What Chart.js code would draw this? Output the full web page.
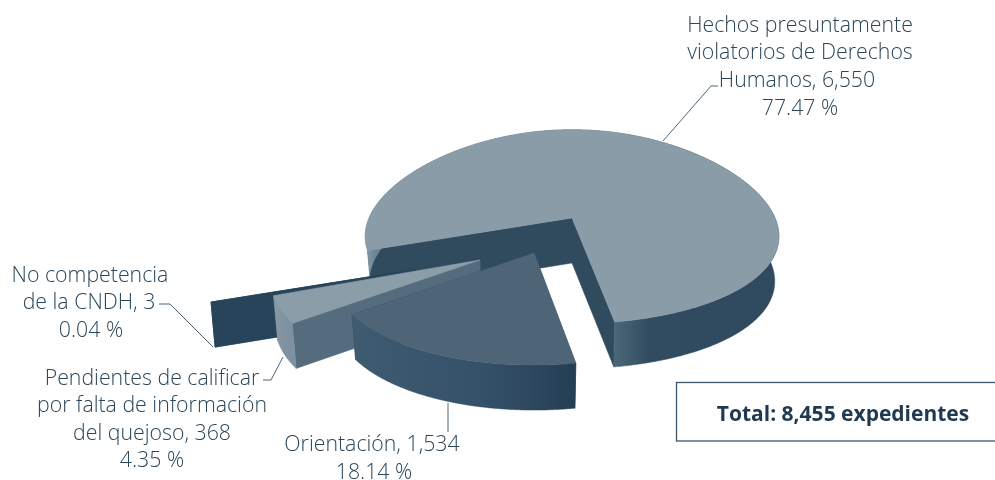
<!DOCTYPE html>
<html lang="es">
<head>
<meta charset="utf-8">
<title>Expedientes</title>
<style>
html,body{margin:0;padding:0;background:#fff}
canvas{display:block}
</style>
<script src="https://cdn.jsdelivr.net/npm/chart.js@4"></script>
</head>
<body>
<canvas id="c" width="995" height="480"></canvas>
<script>
// ---- data ----
const categories = ["Hechos presuntamente violatorios de Derechos Humanos", "Orientación", "Pendientes de calificar por falta de información del quejoso", "No competencia de la CNDH"];
const expedientes = [6550, 1534, 368, 3];
const porcentajes = ["77.47 %", "18.14 %", "4.35 %", "0.04 %"];
const totalLabel = "Total: 8,455 expedientes";
const labelLines = [
  ["Hechos presuntamente", "violatorios de Derechos", "Humanos, 6,550", porcentajes[0]],
  ["Orientación, 1,534", porcentajes[1]],
  ["Pendientes de calificar", "por falta de información", "del quejoso, 368", porcentajes[2]],
  ["No competencia", "de la CNDH, 3", porcentajes[3]]
];

// ---- styles and layout ----
const TEXT = "#2b4659";
const FONT = '300 21.3px "Open Sans", sans-serif';
const view = {cx: 572, cy: 218, rx: 203, ry: 97, persX: 0.2, persY: 0.09, depth: 45, baseScale: 0.98};
const explode = [
  {dx: 0, dy: 0, sx: 1, sy: 1},
  {dx: -38, dy: 35, sx: 0.98, sy: 1.06},
  {dx: -92, dy: 42, sx: 1.01, sy: 1.09},
  {dx: -156.5, dy: 51.5, sx: 1, sy: 1}
];
const topColors = ["#8a9ca8", "#4e6577", "#8b9da9", "#27445a"];
const cutColors = ["#304a5e", "#304a5e", "#546c7e", "#27445a"];
const wallStops = [
  [[365,"#8a9ca8"],[375,"#6f8596"],[617,"#4a6577"],[650,"#314c60"],[778,"#2f4a5e"]],
  [[352,"#3f5b70"],[480,"#35516a"],[577,"#243e54"]],
  [[272,"#8898a5"],[295,"#7a8fa0"]],
  [[211,"#27445a"],[215,"#27445a"]]
];
const drawOrder = [0, 3, 2, 1];
const labelLayout = [
  [[800,26],[800,53],[797,81],[800,109]],
  [[372,445],[374,473]],
  [[152,379],[152,406],[152,434],[152,461]],
  [[90,276],[89,303],[91,331]]
];
const leaders = [
  [[718,86],[711,86],[663,141]],
  [[448,403],[448,432]],
  [[263,380],[271,380],[283,357]],
  [[159,304],[170,304],[213,347]]
];
const totalBox = {x: 676.5, y: 382.5, right: 996, bottom: 441, textX: 843, textY: 415};

function project(a, i, z, r) {
  const e = explode[i], v = view;
  const u = Math.cos(a) * r, w = Math.sin(a) * r;
  const k = z ? v.baseScale : 1;
  const x = v.rx * u * (1 + v.persX * w) * e.sx * k;
  const y = v.ry * w * (1 + v.persY * w) * e.sy;
  return [v.cx + e.dx + x, v.cy + e.dy + y + (z ? v.depth : 0)];
}
function poly(ctx, pts, fill) {
  ctx.beginPath();
  pts.forEach((p, n) => n ? ctx.lineTo(p[0], p[1]) : ctx.moveTo(p[0], p[1]));
  ctx.closePath();
  ctx.fillStyle = fill;
  ctx.fill();
  ctx.strokeStyle = fill;
  ctx.lineWidth = 0.5;
  ctx.stroke();
}
function arcPts(i, a0, a1, z) {
  const n = Math.max(2, Math.ceil(Math.abs(a1 - a0) / 0.008));
  const pts = [];
  for (let s = 0; s <= n; s++) pts.push(project(a0 + (a1 - a0) * s / n, i, z, 1));
  return pts;
}
const pie3d = {
  id: "pie3d",
  beforeDatasetsDraw(chart) {
    const ctx = chart.ctx;
    const arcs = chart.getDatasetMeta(0).data;
    drawOrder.forEach(i => {
      const a0 = arcs[i].startAngle, a1 = arcs[i].endAngle;
      const topArc = arcPts(i, a0, a1, 0), botArc = arcPts(i, a0, a1, 1);
      const apexT = project(0, i, 0, 0), apexB = project(0, i, 1, 0);
      const stops = wallStops[i];
      const x0 = stops[0][0], x1 = stops[stops.length - 1][0];
      const g = ctx.createLinearGradient(x0, 0, x1, 0);
      stops.forEach(s => g.addColorStop((s[0] - x0) / (x1 - x0), s[1]));
      poly(ctx, [apexT, topArc[0], botArc[0], apexB], cutColors[i]);
      poly(ctx, [apexT, topArc[topArc.length - 1], botArc[botArc.length - 1], apexB], cutColors[i]);
      poly(ctx, topArc.concat(botArc.slice().reverse()), g);
      poly(ctx, [apexT].concat(topArc), topColors[i]);
    });
    // leader lines
    ctx.strokeStyle = "#3a5467";
    ctx.lineWidth = 0.9;
    leaders.forEach(l => {
      ctx.beginPath();
      l.forEach((p, n) => n ? ctx.lineTo(p[0], p[1]) : ctx.moveTo(p[0], p[1]));
      ctx.stroke();
    });
    // labels
    ctx.fillStyle = TEXT;
    ctx.font = FONT;
    ctx.textAlign = "center";
    ctx.textBaseline = "middle";
    labelLines.forEach((lines, i) => lines.forEach((t, j) => {
      ctx.fillText(t, labelLayout[i][j][0], labelLayout[i][j][1]);
    }));
    // total box
    const b = totalBox;
    ctx.strokeStyle = "#3a566b";
    ctx.lineWidth = 1.3;
    ctx.strokeRect(b.x, b.y, b.right - b.x, b.bottom - b.y);
    ctx.fillStyle = "#1f3a50";
    ctx.font = '700 21px "Open Sans", sans-serif';
    ctx.fillText(totalLabel, b.textX, b.textY);
    return false;
  }
};
new Chart(document.getElementById("c"), {
  type: "pie",
  data: {labels: categories, datasets: [{data: expedientes, backgroundColor: topColors, borderWidth: 0}]},
  options: {
    responsive: false,
    animation: false,
    rotation: 251,
    plugins: {legend: {display: false}, tooltip: {enabled: false}}
  },
  plugins: [pie3d]
});
</script>
</body>
</html>
